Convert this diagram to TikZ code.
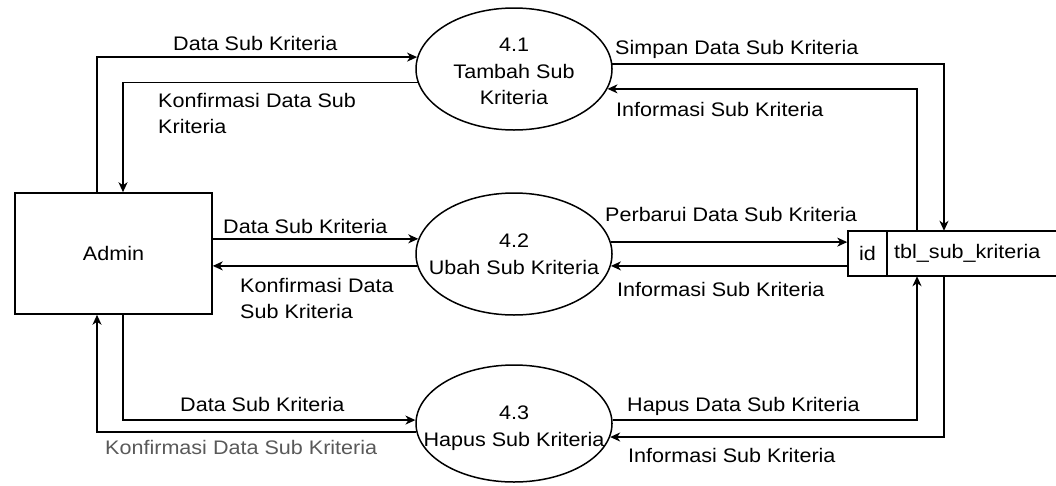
\documentclass[tikz,border=0pt]{standalone}
\usepackage{fontspec}
\setmainfont{Liberation Sans}[FakeStretch=1.1]
\usetikzlibrary{arrows.meta,shapes.geometric}
\newcommand\dfdfont{\fontsize{19.6pt}{26.5pt}\selectfont}
\begin{document}
\begin{tikzpicture}[x=1pt,y=-1pt,
  every node/.style={font=\dfdfont, text=black},
  flow/.style={draw, line width=1.5pt, -{Stealth[length=10pt,width=9pt,inset=3pt]}},
  proc/.style={ellipse, draw, line width=1.5pt, minimum width=196pt, minimum height=122pt, inner sep=0pt},
  ptext/.style={anchor=north, align=center, inner sep=0pt},
  entity/.style={draw, line width=1.5pt, minimum width=197pt, minimum height=121pt, inner sep=0pt},
  idbox/.style={draw, line width=1.5pt, minimum width=39pt, minimum height=45pt, inner sep=0pt},
  tblbox/.style={anchor=west, inner xsep=7pt, inner ysep=0pt, minimum height=45pt},
  lbl/.style={anchor=base west, inner sep=0pt},
  lbltwo/.style={anchor=north west, align=left, inner sep=0pt}]
\useasboundingbox (0,0) rectangle (1056,485);

% external entity
\node[entity] (admin) at (113.5,253.5) {Admin};

% processes
\node[proc] (e1) at (514,69) {};
\node[proc] (e2) at (514,254) {};
\node[proc, minimum height=117pt] (e3) at (514,423.5) {};
\node[ptext] (t1) at (514,38) {4.1\\Tambah Sub\\Kriteria};
\node[ptext] (t2) at (514,234) {4.2\\Ubah Sub Kriteria};
\node[ptext] (t3) at (514,406) {4.3\\Hapus Sub Kriteria};

% data store
\node[idbox] (dsid) at (867.5,253.5) {id};
\node[tblbox] (tbl) at (887,253.5) {tbl\_sub\_kriteria};
\coordinate (edge) at (1056,0);
\draw[line width=1.5pt] (tbl.north west) -- (tbl.north west -| edge);
\draw[line width=1.5pt] (tbl.south west) -- (tbl.south west -| edge);

% flows between admin and processes
\draw[flow] ([xshift=-16.5pt]admin.north) |- (e1.173.5);
\draw[flow] (e1.188.3) -| ([xshift=9.5pt]admin.north);
\draw[flow] (admin.east |- e2.171.65) -- (e2.171.65);
\draw[flow] (e2.187.7) -- (admin.east |- e2.187.7);
\draw[flow] ([xshift=9.5pt]admin.south) |- (e3.178);
\draw[flow] (e3.185) -| ([xshift=-16.5pt]admin.south);

% flows between processes and data store
\draw[flow] (e1.3.5) -| ([xshift=57pt]tbl.north west);
\draw[flow] ([xshift=30pt]tbl.north west) |- (e1.-12.2);
\draw[flow] (e2.7) -- (dsid.west |- e2.7);
\draw[flow] (dsid.west |- e2.-7) -- (e2.-7);
\draw[flow] (e3.2.6) -| ([xshift=30pt]tbl.south west);
\draw[flow] ([xshift=57pt]tbl.south west) |- (e3.-8.7);

% flow labels
\node[lbl] (l1) at (173,50) {Data Sub Kriteria};
\node[lbltwo] (l2) at (158,92.6) {Konfirmasi Data Sub\\Kriteria};
\node[lbl] (l3) at (223,233) {Data Sub Kriteria};
\node[lbltwo] (l4) at (240,277.6) {Konfirmasi Data\\Sub Kriteria};
\node[lbl] (l5) at (180,411) {Data Sub Kriteria};
\node[lbl, text=black!65] (l6) at (105,454) {Konfirmasi Data Sub Kriteria};
\node[lbl] (l7) at (615,54) {Simpan Data Sub Kriteria};
\node[lbl] (l8) at (616,116) {Informasi Sub Kriteria};
\node[lbl] (l9) at (605,221) {Perbarui Data Sub Kriteria};
\node[lbl] (l10) at (617,296) {Informasi Sub Kriteria};
\node[lbl] (l11) at (627,411) {Hapus Data Sub Kriteria};
\node[lbl] (l12) at (628,462) {Informasi Sub Kriteria};
\end{tikzpicture}
\end{document}
